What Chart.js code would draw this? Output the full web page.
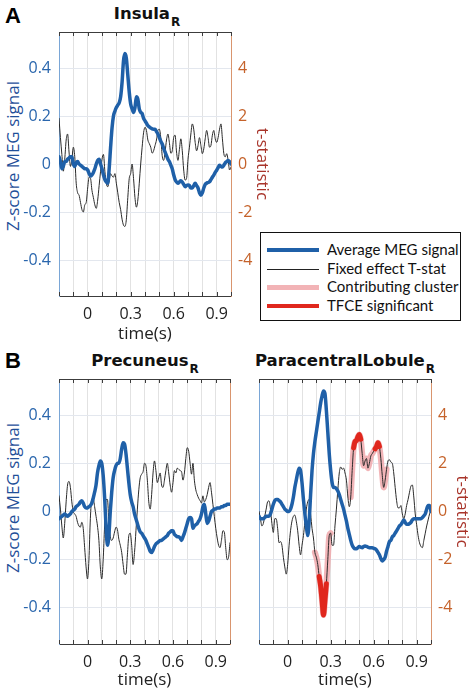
<!DOCTYPE html>
<html>
<head>
<meta charset="utf-8">
<script src="https://cdn.jsdelivr.net/npm/chart.js@4.4.1/dist/chart.umd.min.js"></script>
<style>
  body { margin: 0; background: #fff; width: 475px; height: 692px; position: relative; overflow: hidden; font-family: "Open Sans", sans-serif; }
  canvas { position: absolute; }
  .letter { position: absolute; font: bold 22px "Liberation Sans", sans-serif; line-height: 1; color: #000; }
  .ttl { position: absolute; font: bold 16.5px "DejaVu Sans", sans-serif; line-height: 1; color: #111; white-space: nowrap; transform: translateX(-50%); }
  .ttl span { font-size: 12px; position: relative; top: 7px; margin-left: 1px; }
  .ylab { position: absolute; font-size: 17px; color: #1f4f99; white-space: nowrap; transform: translate(-50%, -50%) rotate(-90deg); }
  #legend { position: absolute; left: 260px; top: 232px; width: 199px; height: 87px; border: 1.5px solid #111; background: #fff; font: 15px Lato, sans-serif; color: #111; }
  #legend .row { position: absolute; left: 0; height: 18px; line-height: 18px; }
  #legend .swatch { position: absolute; left: 6px; width: 52px; }
  #legend .txt { position: absolute; left: 66px; white-space: nowrap; top: -1px; }
</style>
</head>
<body>
<div class="letter" style="left:5px;top:5px">A</div>
<div class="letter" style="left:5px;top:350px">B</div>
<div class="ttl" style="left:147px;top:6px">Insula<span>R</span></div>
<div class="ttl" style="left:145px;top:353px">Precuneus<span>R</span></div>
<div class="ttl" style="left:345px;top:353px">ParacentralLobule<span>R</span></div>
<div class="ylab" style="left:12px;top:156px">Z-score MEG signal</div>
<div class="ylab" style="left:12px;top:498px">Z-score MEG signal</div>

<canvas id="insula"></canvas>
<canvas id="precuneus"></canvas>
<canvas id="paracentral"></canvas>

<div id="legend">
  <div class="row" style="top:8px"><div class="swatch" style="top:7px;height:4px;background:#1f60a8"></div><div class="txt">Average MEG signal</div></div>
  <div class="row" style="top:27px"><div class="swatch" style="top:8.5px;height:1.2px;background:#222"></div><div class="txt">Fixed effect T-stat</div></div>
  <div class="row" style="top:45px"><div class="swatch" style="top:6.5px;height:5px;background:#f2b3b6"></div><div class="txt">Contributing cluster</div></div>
  <div class="row" style="top:64px"><div class="swatch" style="top:7px;height:4px;background:#e0271d"></div><div class="txt">TFCE significant</div></div>
</div>

<script>
// time axis: -0.2 s to 1.0 s, one sample every 10 ms
const T_START = -0.2;
const T_STEP = 0.01;

// x tick labels that are shown (gridlines every 0.1 s)
const X_LABELS = [0, 0.3, 0.6, 0.9];

// Insula R
const insulaMeg = [
  0.03, 0.01, -0.02, -0.01, 0.01, 0.01, 0.02, 0.025, 0.03, 0.03, 0.0, -0.01, 0.005, 0.01, 0.0, -0.005, -0.01, -0.015, -0.02, -0.02, -0.025,
  -0.04, -0.05, -0.045, -0.035, -0.02, 0.0, 0.015, 0.02, 0.0, -0.02,
  -0.045, -0.065, -0.075, -0.08, -0.02, 0.07, 0.15, 0.2, 0.22, 0.235,
  0.245, 0.255, 0.28, 0.34, 0.43, 0.46, 0.44, 0.37, 0.30, 0.25,
  0.23, 0.215, 0.235, 0.28, 0.27, 0.23, 0.215, 0.21, 0.19, 0.18,
  0.17, 0.16, 0.155, 0.15, 0.146, 0.145, 0.145, 0.135, 0.125, 0.11,
  0.095, 0.084, 0.065, 0.05, 0.035, 0.02, 0.01, -0.005, -0.02, -0.045,
  -0.065, -0.075, -0.08, -0.075, -0.07, -0.075, -0.085, -0.095, -0.09, -0.088,
  -0.09, -0.1, -0.1, -0.09, -0.08, -0.09, -0.1, -0.12, -0.13, -0.12,
  -0.1, -0.085, -0.08, -0.077, -0.074, -0.065, -0.055, -0.046, -0.035, -0.026,
  -0.015, -0.005, -0.01, -0.013, -0.005, 0.005, 0.01, 0.015, 0.01, 0.0
];
const insulaT = [
  1.9, 1.1, 0.4, -0.3, 0.2, 1.0, 1.25, 0.5, -0.1, 0.2, 0.7, 0.3, -0.8, -1.2, -1.3, -1.6, -1.9, -2.0, -1.7, -1.6, -1.0,
  -0.55, -0.6, -1.1, -1.4, -1.7, -1.85, -1.5, -0.9, -0.3, 0.2,
  0.4, -0.3, -0.8, -0.95, -0.7, -0.4, -0.5, -0.55, -0.4, -0.8,
  -1.2, -1.6, -1.9, -2.3, -2.55, -2.6, -2.3, -1.4, -0.6, -0.4,
  0.0, -0.6, -1.4, -1.8, -1.5, -0.8, 0.0, 0.7, 1.3, 1.53,
  1.4, 1.0, 0.85, 0.7, 0.45, 0.55, 0.77, 1.0, 1.4, 1.45,
  1.1, 0.35, 0.15, 0.5, 1.0, 1.25, 0.9, 0.45, 0.55, 1.1,
  1.2, 0.5, 0.15, 0.6, 1.05, 0.55, -0.25, -0.67, -0.6, 0.2,
  0.7, 1.25, 1.67, 1.45, 0.9, 0.55, 0.77, 1.1, 0.77, 0.43,
  0.63, 1.05, 1.4, 1.1, 0.7, 0.77, 1.2, 1.4, 1.05, 0.9,
  1.1, 1.45, 1.67, 1.05, 0.43, 0.3, 0.43, 0.15, -0.25, -0.12
];

// Precuneus R
const precuneusMeg = [
  -0.03, -0.025, -0.02, -0.015, -0.01, -0.015, -0.02, -0.015, -0.01, 0.0, 0.005, 0.01, 0.02, 0.025, 0.03, 0.04, 0.045, 0.035, 0.02, 0.015, 0.015,
  0.02, 0.025, 0.035, 0.055, 0.08, 0.11, 0.16, 0.19, 0.21, 0.2,
  0.15, 0.06, -0.06, -0.14, -0.1, 0.0, 0.08, 0.14, 0.17, 0.19,
  0.2, 0.2, 0.22, 0.26, 0.285, 0.28, 0.24, 0.18, 0.12, 0.07,
  0.04, 0.02, -0.01, -0.03, -0.05, -0.07, -0.085, -0.09, -0.1, -0.11,
  -0.12, -0.135, -0.15, -0.165, -0.17, -0.16, -0.145, -0.135, -0.13, -0.125,
  -0.12, -0.12, -0.115, -0.11, -0.105, -0.1, -0.09, -0.085, -0.08, -0.08,
  -0.095, -0.1, -0.105, -0.105, -0.11, -0.12, -0.105, -0.09, -0.07, -0.05,
  -0.03, -0.025, -0.03, -0.07, -0.06, -0.055, -0.05, -0.04, -0.03, -0.01,
  0.02, 0.03, -0.01, -0.05, -0.04, -0.02, 0.0, 0.005, 0.01, 0.01,
  0.015, 0.015, 0.015, 0.02, 0.02, 0.025, 0.025, 0.03, 0.03, 0.03
];
const precuneusT = [
  0.65, 0.1, -0.6, -1.1, -0.5, 0.4, 1.1, 1.25, 1.0, 0.4, 0.0, -0.1, -0.2, -0.45, -0.6, -0.65, -0.45, -0.7, -1.5, -2.3, -2.8,
  -2.0, -0.3, 0.5, 0.55, 0.2, -0.2, -0.6, -1.2, -2.3, -2.8,
  -2.0, -0.6, 0.5, 0.5, -0.45, -1.05, -1.2, -1.1, -0.85, -0.65,
  -0.75, -1.15, -1.4, -1.7, -2.2, -2.6, -2.6, -1.8, -1.0, -0.9,
  -1.4, -2.2, -1.7, -0.8, 0.1, 0.9, 1.4, 1.55, 1.65, 2.0,
  1.9, 1.3, 0.4, 0.1, 0.7, 1.6, 2.1, 1.7, 1.2, 1.4,
  1.6, 1.1, 1.0, 1.3, 1.7, 2.0, 1.6, 1.1, 0.8, 1.2,
  1.7, 1.6, 1.8, 1.75, 1.7, 1.65, 1.3, 1.6, 2.2, 2.65,
  2.5, 2.0, 1.55, 2.0, 1.3, 0.9, 0.7, 0.55, 0.45, 0.35,
  0.65, 0.4, 0.5, 0.7, 1.0, 1.2, 0.8, 0.3, -0.2, -0.7,
  -1.1, -1.4, -1.5, -1.2, -0.8, -0.85, -1.5, -2.0, -1.9, -1.3
];

// ParacentralLobule R
const paracentralMeg = [
  -0.02, -0.03, -0.03, -0.03, -0.025, -0.02, -0.02, -0.02, -0.01, 0.01, 0.03, 0.045, 0.05, 0.05, 0.045, 0.04, 0.03, 0.02, 0.01, 0.005, 0.0,
  0.0, 0.01, 0.03, 0.06, 0.1, 0.13, 0.16, 0.18, 0.17, 0.12,
  0.05, -0.01, -0.06, -0.1, -0.04, 0.07, 0.17, 0.24, 0.29, 0.33,
  0.37, 0.41, 0.45, 0.48, 0.5, 0.49, 0.42, 0.33, 0.24, 0.17,
  0.12, 0.1, 0.1, 0.095, 0.085, 0.07, 0.05, 0.03, 0.01, -0.015,
  -0.04, -0.07, -0.095, -0.12, -0.14, -0.15, -0.155, -0.155, -0.15, -0.145,
  -0.148, -0.15, -0.145, -0.143, -0.145, -0.148, -0.15, -0.15, -0.15, -0.153,
  -0.155, -0.16, -0.17, -0.18, -0.195, -0.205, -0.2, -0.19, -0.165, -0.145,
  -0.125, -0.12, -0.105, -0.1, -0.09, -0.08, -0.07, -0.06, -0.055, -0.045,
  -0.035, -0.045, -0.053, -0.053, -0.05, -0.045, -0.035, -0.03, -0.03, -0.03,
  -0.03, -0.03, -0.03, -0.025, -0.018, -0.01, 0.01, 0.025, 0.025, 0.0
];
const paracentralT = [
  0.0, -0.3, -0.6, -0.5, -0.2, 0.1, 0.4, 0.44, 0.1, -0.5, -0.87, -0.3, -0.3, -0.7, -1.3, -1.25, -1.4, -1.9, -2.3, -2.6, -2.2,
  -1.4, -0.8, -0.4, -0.2, -0.15, -0.4, -0.8, -1.4, -1.8, -1.4,
  -1.0, -0.45, 0.1, 0.4, 0.5, -0.1, -0.7, -1.1, -1.7, -1.9,
  -2.2, -2.7, -3.1, -3.7, -4.3, -3.7, -3.0, -2.0, -1.0, -0.9,
  -1.4, -1.4, -0.6, 0.1, 0.9, 1.6, 1.85, 1.75, 1.8, 1.6,
  1.3, 0.6, 0.2, 0.6, 1.7, 2.64, 2.9, 2.95, 3.1, 3.2,
  3.0, 2.4, 1.9, 2.1, 2.2, 1.8, 2.0, 2.3, 2.4, 2.5,
  2.6, 2.7, 2.85, 2.7, 2.2, 1.5, 1.0, 1.3, 1.75, 2.1,
  2.15, 2.05, 2.0, 1.6, 1.0, 0.45, 0.15, 0.15, 0.25, -0.1,
  -0.3, -0.1, 0.25, 0.5, 0.8, 1.05, 1.1, 0.6, -0.1, -0.55,
  -1.0, -1.3, -1.45, -1.5, -1.2, -0.9, -0.6, -0.35, -0.1, 0.05
];
// time windows (s) of the contributing clusters and the TFCE-significant parts
const paracentralCluster = [[0.19, 0.30], [0.44, 0.69]];
const paracentralTfce = [[0.22, 0.27], [0.46, 0.51], [0.61, 0.64]];

const BLUE = '#1f60a8';
const TLINE = '#2a2a2a';
const PINK = 'rgba(240,168,172,0.85)';
const RED = '#e0271d';
const FONT = '"Open Sans", sans-serif';

const TIME = insulaMeg.map((_, i) => Math.round((T_START + i * T_STEP) * 100) / 100);

function pts(vals) {
  return vals.map((v, i) => ({ x: TIME[i], y: v }));
}

function inWindows(vals, wins) {
  return vals.map((v, i) => wins.some(w => TIME[i] >= w[0] - 1e-9 && TIME[i] <= w[1] + 1e-9) ? v : null);
}

// top border and inward tick marks on top/bottom, like the MATLAB box
const frame = {
  id: 'frame',
  afterDraw(chart) {
    const { ctx, chartArea: a, scales: { x } } = chart;
    ctx.save();
    ctx.strokeStyle = '#3c3c3c';
    ctx.lineWidth = 1;
    ctx.beginPath();
    ctx.moveTo(a.left, a.top + 0.5);
    ctx.lineTo(a.right, a.top + 0.5);
    x.ticks.forEach(t => {
      const px = Math.round(x.getPixelForValue(t.value)) + 0.5;
      ctx.moveTo(px, a.top);
      ctx.lineTo(px, a.top + 4);
      ctx.moveTo(px, a.bottom);
      ctx.lineTo(px, a.bottom - 4);
    });
    ctx.stroke();
    ctx.restore();
  }
};

function panel(id, cfg) {
  const cv = document.getElementById(id);
  const b = cfg.box, a = cfg.area;
  cv.style.left = b.x + 'px';
  cv.style.top = b.y + 'px';
  cv.width = b.w;
  cv.height = b.h;

  const datasets = [
    { data: pts(cfg.meg), yAxisID: 'y', borderColor: BLUE, borderWidth: 3.5 }
  ];
  if (cfg.tfce) {
    datasets.push({ data: pts(inWindows(cfg.tstat, cfg.tfce)), yAxisID: 'y2', borderColor: RED, borderWidth: 5, spanGaps: false });
  }
  datasets.push({ data: pts(cfg.tstat), yAxisID: 'y2', borderColor: TLINE, borderWidth: 1 });
  if (cfg.cluster) {
    datasets.push({ data: pts(inWindows(cfg.tstat, cfg.cluster)), yAxisID: 'y2', borderColor: PINK, borderWidth: 6, spanGaps: false });
  }

  new Chart(cv, {
    type: 'line',
    data: { datasets },
    options: {
      responsive: false,
      animation: false,
      layout: { padding: { top: a.t - b.y, left: 0, right: 0, bottom: 0 } },
      plugins: { legend: { display: false }, tooltip: { enabled: false } },
      elements: {
        point: { radius: 0 },
        line: { cubicInterpolationMode: 'monotone', borderCapStyle: 'round', borderJoinStyle: 'round' }
      },
      scales: {
        x: {
          type: 'linear', min: -0.2, max: 1.0,
          afterFit: s => { s.height = b.y + b.h - a.b; },
          ticks: {
            stepSize: 0.1, autoSkip: false, maxRotation: 0, padding: 9,
            color: '#222', font: { family: FONT, size: 16 },
            callback: v => {
              const k = Math.round(v * 10) / 10;
              return X_LABELS.includes(k) ? String(k) : '';
            }
          },
          grid: { color: '#e2e2e2', drawTicks: false },
          border: { color: '#3c3c3c' },
          title: { display: true, text: 'time(s)', color: '#222', font: { family: FONT, size: 17 }, padding: { top: 0, bottom: cfg.xTitlePad } }
        },
        y: {
          position: 'left', min: -0.55, max: 0.55,
          afterFit: s => { s.width = a.l - b.x; },
          ticks: { stepSize: 0.2, includeBounds: false, display: cfg.leftLabels, padding: 8, color: '#2a66ad', font: { family: FONT, size: 16 } },
          grid: { color: '#e3e7ee', drawTicks: false },
          border: { color: '#7aa6d6' }
        },
        y2: {
          position: 'right', min: -5.5, max: 5.5,
          afterFit: s => { s.width = b.x + b.w - a.r; },
          ticks: { stepSize: 2, includeBounds: false, display: cfg.rightLabels, padding: 7, color: '#c5622a', font: { family: FONT, size: 16 } },
          grid: { display: false, drawTicks: false },
          border: { color: '#d9956e' },
          title: { display: cfg.rightLabels, text: 't-statistic', color: '#a8342a', font: { family: FONT, size: 17 }, padding: { top: 3 } }
        }
      }
    },
    plugins: [frame]
  });
}

panel('insula', {
  box: { x: 0, y: 0, w: 275, h: 350 },
  area: { l: 59, t: 32, r: 231, b: 296 },
  meg: insulaMeg, tstat: insulaT,
  leftLabels: true, rightLabels: true, xTitlePad: 6
});
panel('precuneus', {
  box: { x: 0, y: 340, w: 240, h: 352 },
  area: { l: 59, t: 379, r: 230, b: 644 },
  meg: precuneusMeg, tstat: precuneusT,
  leftLabels: true, rightLabels: false, xTitlePad: 2
});
panel('paracentral', {
  box: { x: 240, y: 340, w: 235, h: 352 },
  area: { l: 259, t: 379, r: 431, b: 644 },
  meg: paracentralMeg, tstat: paracentralT,
  cluster: paracentralCluster, tfce: paracentralTfce,
  leftLabels: false, rightLabels: true, xTitlePad: 2
});
</script>
</body>
</html>
